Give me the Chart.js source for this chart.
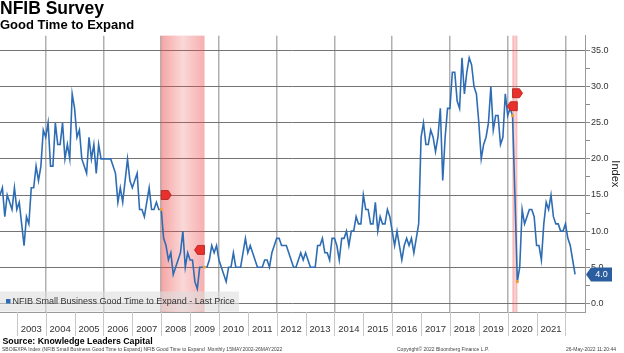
<!DOCTYPE html>
<html>
<head>
<meta charset="utf-8">
<script src="https://cdn.jsdelivr.net/npm/chart.js@4.4.1/dist/chart.umd.min.js"></script>
<style>
  html, body { margin: 0; padding: 0; background: #fff; }
  #wrap { position: relative; width: 624px; height: 353px; }
</style>
</head>
<body>
<div id="wrap"><canvas id="myChart" width="624" height="353"></canvas></div>
<script>
// monthly series, first value is May 2002 (plotted at month end like Bloomberg does)
const startYear = 2002;
const startMonth = 5;

// NFIB good time to expand (%)
const expandValues = [
  15, 16, 12, 15, 14, 13, 16, 13,                  // 2002 May-Dec
  14, 11, 8, 12, 11, 16, 16, 19, 17, 19, 24, 23,   // 2003
  25, 19, 19, 25, 22, 22, 25, 20, 22, 20, 29, 27,  // 2004
  23, 24, 20, 19, 18, 23, 20, 22, 18, 22, 20, 20,  // 2005
  20, 20, 20, 19, 18, 14, 16, 14, 17, 20, 17, 16,  // 2006
  17, 18, 13, 13, 12, 14, 16, 13, 13, 14, 13, 13,  // 2007
  9, 8, 6, 7, 4, 5, 6, 7, 10, 5, 7, 6,             // 2008
  6, 3, 2, 5, 5, 5, 5, 6, 8, 7, 8, 6,              // 2009
  5, 4, 3, 5, 5, 7, 5, 5, 5, 7, 9, 7,              // 2010
  8, 7, 6, 5, 5, 5, 6, 6, 5, 7, 8, 9,              // 2011
  9, 8, 8, 8, 7, 6, 5, 5, 6, 7, 6, 7,              // 2012
  6, 5, 5, 5, 8, 8, 9, 7, 7, 6, 9, 9,              // 2013
  8, 6, 9, 9, 10, 8, 10, 10, 12, 11, 11, 15,       // 2014
  13, 13, 11, 11, 14, 10, 12, 11, 11, 13, 12, 10,  // 2015
  8, 10, 8, 6, 8, 9, 8, 9, 7, 9, 11, 23,           // 2016
  25, 22, 22, 24, 23, 21, 23, 27, 17, 23, 27, 27,  // 2017
  32, 32, 28, 27, 34, 29, 32, 34, 33, 30, 29, 25,  // 2018
  20, 22, 23, 25, 30, 24, 26, 26, 22, 23, 29, 26,  // 2019
  27, 26, 15, 3, 5, 13, 11, 12, 13, 13, 12, 8,     // 2020
  8, 6, 11, 14, 13, 15, 12, 11, 11, 10, 10, 11,    // 2021
  9, 8, 6, 4                                       // 2022 Jan-Apr
];
const seriesLabel = 'NFIB Small Business Good Time to Expand - Last Price';

// recession bands [year, month]
const recessionStart = [[2007, 12], [2020, 2]];
const recessionEnd = [[2009, 6], [2020, 4]];
// where the red start / end flags sit (index points)
const startFlagValues = [15.0, 29.1];
const endFlagValues = [7.4, 27.3];

const yearLabels = [2003, 2004, 2005, 2006, 2007, 2008, 2009, 2010, 2011, 2012,
  2013, 2014, 2015, 2016, 2017, 2018, 2019, 2020, 2021];
const gridYears = [2004, 2006, 2008, 2010, 2012, 2014, 2016, 2018, 2020, 2022];
const yTickValues = [0, 2.5, 5, 7.5, 10, 12.5, 15, 17.5, 20, 22.5, 25, 27.5, 30, 32.5, 35];

const family = "'Liberation Sans', Arial, sans-serif";
const lineBlue = '#2e6db4';

function monthX(ym) { return ym[0] + ym[1] / 12; }
function valueAt(ym) { return expandValues[(ym[0] - startYear) * 12 + ym[1] - startMonth]; }

const points = expandValues.map((v, i) => ({ x: startYear + (startMonth + i) / 12, y: v }));

//pink bands behind the line
const recessionPlugin = {
  id: 'recessions',
  beforeDatasetsDraw(chart) {
    const { ctx, chartArea, scales: { x } } = chart;
    ctx.save();
    recessionStart.forEach((s, k) => {
      const x0 = x.getPixelForValue(monthX(s));
      const x1 = x.getPixelForValue(monthX(recessionEnd[k]));
      const g = ctx.createLinearGradient(x0, 0, x1, 0);
      g.addColorStop(0, 'rgba(236,76,76,0.5)');
      g.addColorStop(0.5, 'rgba(236,76,76,0.22)');
      g.addColorStop(1, 'rgba(236,76,76,0.45)');
      ctx.fillStyle = g;
      ctx.fillRect(x0, chartArea.top, x1 - x0, chartArea.bottom - chartArea.top);
    });
    ctx.restore();
  }
};

function flag(ctx, xEdge, yc, dir) {
  const w = 7, tip = 3, h = 4.5;
  ctx.beginPath();
  ctx.moveTo(xEdge, yc - h);
  ctx.lineTo(xEdge + dir * w, yc - h);
  ctx.lineTo(xEdge + dir * (w + tip), yc);
  ctx.lineTo(xEdge + dir * w, yc + h);
  ctx.lineTo(xEdge, yc + h);
  ctx.closePath();
  ctx.fill();
  ctx.stroke();
}

//everything bloomberg puts on top: flags, legend, last value, year strip, footer
const overlayPlugin = {
  id: 'overlay',
  afterDraw(chart) {
    const { ctx, chartArea, scales: { x, y } } = chart;
    ctx.save();

    // recession flags
    ctx.fillStyle = '#e8302c';
    ctx.strokeStyle = '#b3201c';
    ctx.lineWidth = 0.8;
    recessionStart.forEach((s, k) => {
      flag(ctx, x.getPixelForValue(monthX(s)), y.getPixelForValue(startFlagValues[k]), 1);
      flag(ctx, x.getPixelForValue(monthX(recessionEnd[k])), y.getPixelForValue(endFlagValues[k]), -1);
    });

    // small orange dots on the series at band edges
    ctx.fillStyle = '#f0a030';
    recessionStart.concat(recessionEnd).forEach(ym => {
      ctx.beginPath();
      ctx.arc(x.getPixelForValue(monthX(ym)), y.getPixelForValue(valueAt(ym)), 1.6, 0, Math.PI * 2);
      ctx.fill();
    });

    // legend box
    ctx.fillStyle = 'rgba(222,222,222,0.6)';
    ctx.fillRect(0, 291.5, 239, 20);
    ctx.fillStyle = lineBlue;
    ctx.fillRect(6, 299, 4.5, 4.5);
    ctx.fillStyle = '#333';
    ctx.font = '9px ' + family;
    ctx.textBaseline = 'middle';
    ctx.textAlign = 'left';
    ctx.fillText(chart.data.datasets[0].label, 12.5, 301.5);

    // last value tag on the axis
    const last = expandValues[expandValues.length - 1];
    const ty = y.getPixelForValue(last);
    const tx = y.left + 1;
    ctx.fillStyle = '#2b5e9e';
    ctx.beginPath();
    ctx.moveTo(tx, ty);
    ctx.lineTo(tx + 5, ty - 7);
    ctx.lineTo(tx + 26, ty - 7);
    ctx.lineTo(tx + 26, ty + 7);
    ctx.lineTo(tx + 5, ty + 7);
    ctx.closePath();
    ctx.fill();
    ctx.fillStyle = '#fff';
    ctx.font = '9px ' + family;
    ctx.textAlign = 'center';
    ctx.fillText(last.toFixed(1), tx + 15.5, ty + 0.5);

    // year strip under the plot
    const stripTop = chartArea.bottom;
    ctx.strokeStyle = '#c8c8c8';
    ctx.lineWidth = 1;
    yearLabels.concat([yearLabels[yearLabels.length - 1] + 1]).forEach(yr => {
      const px = Math.round(x.getPixelForValue(yr)) + 0.5;
      ctx.beginPath();
      ctx.moveTo(px, stripTop);
      ctx.lineTo(px, stripTop + 24);
      ctx.stroke();
    });
    ctx.fillStyle = '#333';
    ctx.font = '9.5px ' + family;
    ctx.textAlign = 'center';
    yearLabels.forEach(yr => {
      ctx.fillText(String(yr), x.getPixelForValue(yr + 0.5), stripTop + 17);
    });

    // footer
    ctx.textBaseline = 'alphabetic';
    ctx.textAlign = 'left';
    ctx.fillStyle = '#000';
    ctx.font = 'bold 8.8px ' + family;
    ctx.fillText('Source: Knowledge Leaders Capital', 2.5, 343.5);
    ctx.fillStyle = '#444';
    ctx.font = '5px ' + family;
    ctx.fillText('SBOIEXPA Index (NFIB Small Business Good Time to Expand) NFIB Good Time to Expand  Monthly 15MAY2002-26MAY2022', 2, 351, 314);
    ctx.textAlign = 'center';
    ctx.fillText('Copyright\u00A9 2022 Bloomberg Finance L.P.', 443, 351);
    ctx.textAlign = 'right';
    ctx.fillText('26-May-2022 11:20:44', 616, 351);

    ctx.restore();
  }
};

const chart = new Chart(document.getElementById('myChart'), {
  type: 'line',
  data: {
    datasets: [{
      label: seriesLabel,
      data: points,
      borderColor: lineBlue,
      borderWidth: 1.6,
      pointRadius: 0,
      tension: 0,
      fill: false
    }]
  },
  options: {
    responsive: false,
    animation: false,
    layout: { padding: { left: 0, right: 0, top: 0, bottom: 41 } },
    plugins: {
      legend: { display: false },
      tooltip: { enabled: false },
      title: {
        display: true,
        text: 'NFIB Survey',
        align: 'start',
        color: '#000',
        font: { family: family, size: 17.5, weight: 'bold', lineHeight: 0.95 },
        padding: { top: 1, bottom: 0 }
      },
      subtitle: {
        display: true,
        text: 'Good Time to Expand',
        align: 'start',
        color: '#000',
        font: { family: family, size: 13, weight: 'bold', lineHeight: 1.2 },
        padding: { top: 0, bottom: 2.4 }
      }
    },
    scales: {
      x: {
        type: 'linear',
        position: 'bottom',
        min: 2002.417,
        max: 2022.677,
        afterBuildTicks: s => { s.ticks = gridYears.map(v => ({ value: v })); },
        afterFit: s => { s.height = 0; },
        ticks: { display: false },
        grid: { color: '#b0b0b0', lineWidth: 1.5, drawTicks: false },
        border: { display: true, color: '#9a9a9a' }
      },
      y: {
        position: 'right',
        min: -1.2,
        max: 37.07,
        afterBuildTicks: s => { s.ticks = yTickValues.map(v => ({ value: v })); },
        afterFit: s => { s.width = 39; },
        ticks: {
          autoSkip: false,
          padding: 1,
          color: '#333',
          font: { family: family, size: 9 },
          callback: v => (v % 5 === 0 ? v.toFixed(1) : '')
        },
        grid: {
          color: c => (c.tick && c.tick.value % 5 === 0 ? '#747474' : 'rgba(0,0,0,0)'),
          tickColor: '#8a8a8a',
          tickLength: 5
        },
        border: { color: '#9a9a9a' },
        title: {
          display: true,
          text: 'Index',
          color: '#222',
          font: { family: family, size: 11 },
          padding: { top: 2, bottom: 0 }
        }
      }
    }
  },
  plugins: [recessionPlugin, overlayPlugin]
});
</script>
</body>
</html>
